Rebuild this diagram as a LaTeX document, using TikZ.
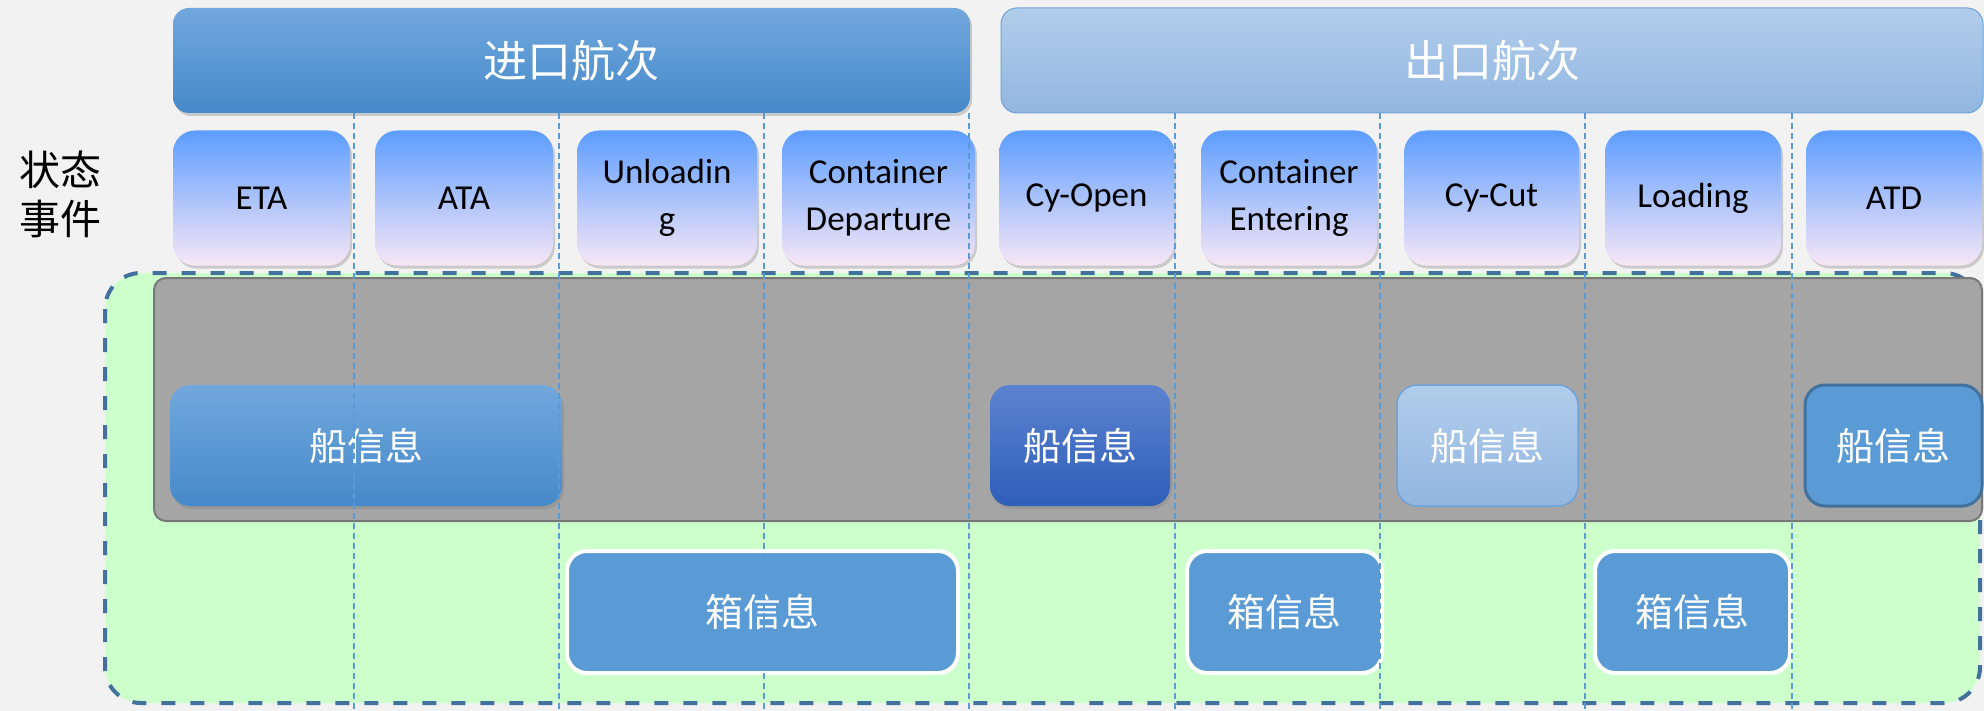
\documentclass[tikz,border=0pt]{standalone}
\usepackage{fontspec}
\setmainfont{Carlito}
\newfontfamily\cjk{Noto Sans CJK SC}
\usetikzlibrary{shadows}

\definecolor{bgcol}{HTML}{F2F2F2}
\definecolor{intop}{HTML}{71A8DD}
\definecolor{inbot}{HTML}{4689C9}
\definecolor{outtop}{HTML}{B1CDEB}
\definecolor{outbot}{HTML}{92B6E1}
\definecolor{outline}{HTML}{6FA3D8}
\definecolor{evtop}{HTML}{5C9DFF}
\definecolor{evmid}{HTML}{9EC4F4}
\definecolor{evbot}{HTML}{F8E7F6}
\definecolor{zonefill}{HTML}{CCFFCC}
\definecolor{zoneline}{HTML}{41719C}
\definecolor{lanefill}{HTML}{A5A5A5}
\definecolor{laneline}{HTML}{787878}
\definecolor{shipdk}{HTML}{5B83CF}
\definecolor{shipdkb}{HTML}{2F5EB9}
\definecolor{plainblue}{HTML}{5B9BD5}

\tikzset{
  softshadow/.style={drop shadow={shadow xshift=1pt, shadow yshift=-1.5pt, opacity=0.35}},
  voyage/.style={rounded corners=8pt, inner sep=0pt, minimum height=52.5pt,
    text=white, font=\cjk\fontsize{22}{26}\selectfont},
  event/.style={rounded corners=11pt, inner sep=0pt, minimum height=67.5pt,
    align=center, top color=evtop, middle color=evmid, bottom color=evbot,
    font=\fontsize{17.5}{23.5}\selectfont, softshadow},
  shipinfo/.style={rounded corners=10pt, inner sep=0pt, minimum height=60.5pt,
    text=white, font=\cjk\fontsize{19}{23}\selectfont},
  boxinfo/.style={rounded corners=10pt, inner sep=0pt, minimum height=61pt,
    fill=plainblue, draw=white, line width=2pt,
    text=white, font=\cjk\fontsize{19}{23}\selectfont},
  guide/.style={plainblue, line width=0.75pt, dash pattern=on 3pt off 2pt},
}

\begin{document}
\begin{tikzpicture}[x=0.5pt, y=-0.5pt]

    % Page
    \useasboundingbox (0,0) rectangle (1984,711);
    \fill[bgcol] (0,0) rectangle (1984,711);

    % Voyages
    \node[voyage, minimum width=398.5pt, top color=intop, bottom color=inbot, softshadow]
      (inbound) at (571.5,60.5) {进口航次};
    \node[voyage, minimum width=491pt, top color=outtop, bottom color=outbot, draw=outline, line width=0.5pt]
      (outbound) at (1492,60.5) {出口航次};

    % Row label
    \node[font=\cjk\fontsize{20.5}{24.5}\selectfont, align=center] (rowlabel) at (60,194) {状态\\事件};

    % Status events
    \node[event, minimum width=88.5pt] (eta)  at (261.5,198) {ETA};
    \node[event, minimum width=89pt]   (ata)  at (464,198)   {ATA};
    \node[event, minimum width=90pt]   (unld) at (667,198)   {Unloadin\\g};
    \node[event, minimum width=96.5pt] (cdep) at (878.5,198) {Container\\Departure};
    \node[event, minimum width=87.5pt] (cyop) at (1086.5,198) {Cy-Open};
    \node[event, minimum width=88pt]   (cent) at (1289,198)  {Container\\Entering};
    \node[event, minimum width=87.5pt] (cyct) at (1491.5,198) {Cy-Cut};
    \node[event, minimum width=88pt]   (load) at (1693,198)  {Loading};
    \node[event, minimum width=88pt]   (atd)  at (1894,198)  {ATD};

    % Information zone
    \draw[fill=zonefill, draw=zoneline, line width=2pt, dash pattern=on 7pt off 7.5pt,
      rounded corners=18pt] (105,273) rectangle (1980,703);

    % Ship lane
    \draw[fill=lanefill, draw=laneline, line width=1pt, rounded corners=6pt]
      (154,278) rectangle (1982,521);

    % Ship information
    \node[shipinfo, minimum width=196pt, top color=intop, bottom color=inbot, softshadow]
      (ship1) at (366,445.5) {船信息};
    \node[shipinfo, minimum width=90pt, top color=shipdk, bottom color=shipdkb, softshadow]
      (ship2) at (1080,445.5) {船信息};
    \node[shipinfo, minimum width=90.5pt, top color=outtop, bottom color=outbot, draw=outline, line width=0.75pt]
      (ship3) at (1487.5,445.5) {船信息};
    \node[shipinfo, minimum width=88.5pt, fill=plainblue, draw=zoneline, line width=1.5pt]
      (ship4) at (1893.5,445.5) {船信息};

    % Container information
    \node[boxinfo, minimum width=195.5pt] (box1) at (762.5,612)  {箱信息};
    \node[boxinfo, minimum width=97.5pt]  (box2) at (1284.5,612) {箱信息};
    \node[boxinfo, minimum width=97.5pt]  (box3) at (1692.5,612) {箱信息};

    % Guides between events
    \foreach \gx in {354,559,764,969,1175,1380,1585,1792}
      \draw[guide] (\gx,113) -- (\gx,711);

  \end{tikzpicture}
\end{document}
